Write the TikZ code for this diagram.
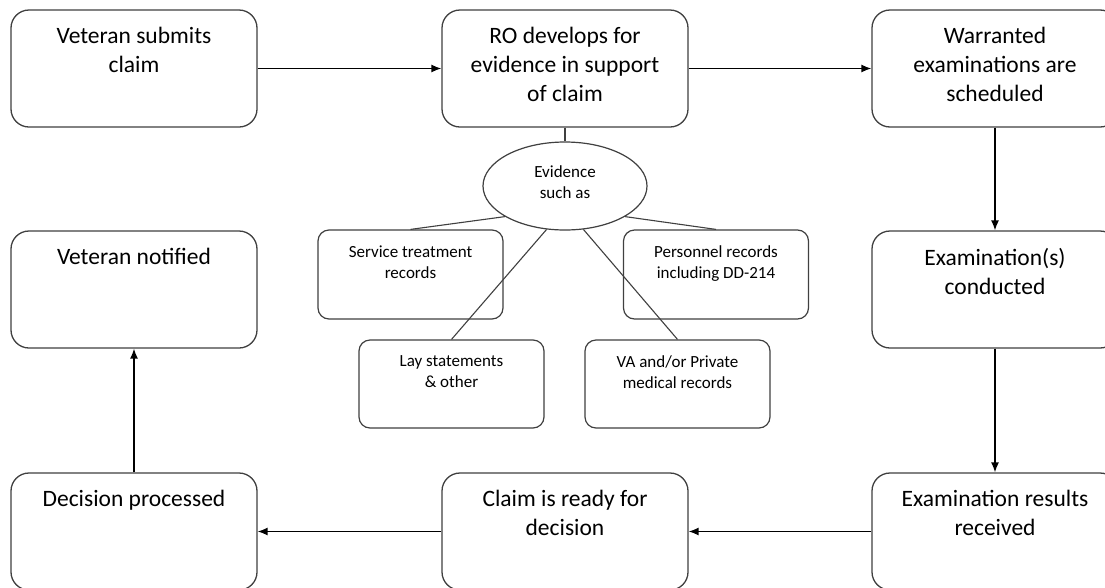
\documentclass[tikz,border=0pt]{standalone}
\usepackage{fontspec}
\setmainfont{Carlito}
\usepackage{tikz}
\usetikzlibrary{shapes.geometric,arrows.meta}
\tikzset{
    step-box/.style = {draw=black!75, fill=white, line width=1.3pt, rectangle, rounded corners=18pt, inner sep=0pt, font=\fontsize{23.5}{29}\selectfont},
    record-box/.style = {draw=black!75, fill=white, line width=1.2pt, rectangle, rounded corners=11pt, inner sep=0pt, font=\fontsize{17}{21}\selectfont},
    evidence-oval/.style = {draw=black!75, fill=white, line width=1.2pt, ellipse, minimum width=164pt, minimum height=88pt, inner sep=0pt, text depth=7pt, align=center, font=\fontsize{17}{21}\selectfont},
    flow-arrow/.style = {-{Latex[length=10pt,width=8pt]}, line width=1.4pt},
    tie-line/.style = {draw=black!75, line width=1.1pt},
}
\newcommand{\steptext}[1]{\parbox[c][117pt][t]{246pt}{\centering\vspace*{17pt}#1}}
\newcommand{\recordtext}[2]{\parbox[c][#1][t]{185pt}{\centering\vspace*{16pt}#2}}

\begin{document}
\begin{tikzpicture}[x=1pt, y=-1pt]
\path[use as bounding box, fill=white] (0,0) rectangle (1105,587);
\clip (0,0) rectangle (1105,587);

% main steps
\node [step-box] (submit) at (134,68.5) {\steptext{Veteran submits\\claim}};
\node [step-box] (develop) at (565,68.5) {\steptext{RO develops for\\evidence in support\\of claim}};
\node [step-box] (schedule) at (995,68.5) {\steptext{Warranted\\examinations are\\scheduled}};
\node [step-box] (notified) at (134,289.5) {\steptext{Veteran notified}};
\node [step-box] (conducted) at (995,289.5) {\steptext{Examination(s)\\conducted}};
\node [step-box] (processed) at (134,531.5) {\steptext{Decision processed}};
\node [step-box] (ready) at (565,531.5) {\steptext{Claim is ready for\\decision}};
\node [step-box] (received) at (995,531.5) {\steptext{Examination results\\received}};

% evidence
\node [evidence-oval] (evidence) at (565,186) {Evidence\\such as};
\node [record-box] (service) at (410.5,274.5) {\recordtext{89pt}{Service treatment\\records}};
\node [record-box] (personnel) at (716,274.5) {\recordtext{89pt}{Personnel records\\including DD-214}};
\node [record-box] (lay) at (451.5,384) {\recordtext{88pt}{Lay statements\\\& other}};
\node [record-box] (medical) at (677.5,384) {\recordtext{88pt}{VA and/or Private\\medical records}};

\draw [tie-line] (develop.south) -- (evidence.north);
\draw [tie-line] (evidence.207) -- (service.north);
\draw [tie-line] (evidence.333) -- (personnel.north);
\draw [tie-line] (evidence.247) -- (lay.north);
\draw [tie-line] (evidence.293) -- (medical.north);

\draw [flow-arrow] (submit) -- (develop);
\draw [flow-arrow] (develop) -- (schedule);
\draw [flow-arrow] (schedule) -- (conducted);
\draw [flow-arrow] (conducted) -- (received);
\draw [flow-arrow] (received) -- (ready);
\draw [flow-arrow] (ready) -- (processed);
\draw [flow-arrow] (processed) -- (notified);
\end{tikzpicture}
\end{document}
